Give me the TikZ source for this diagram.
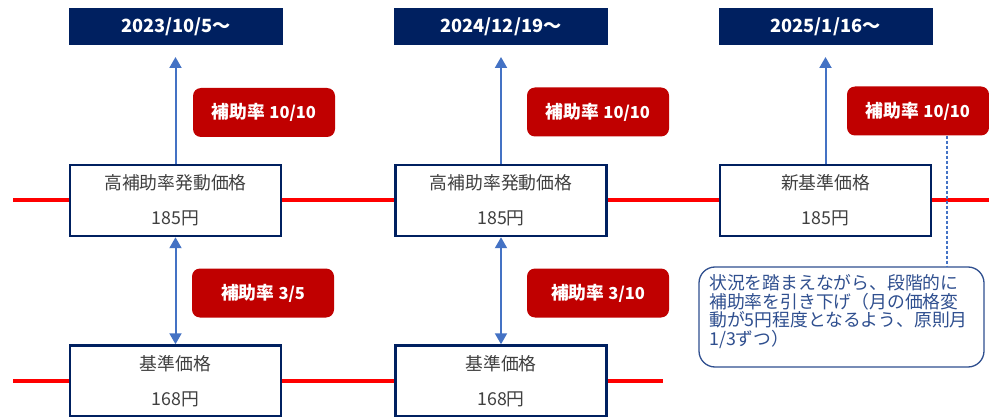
\documentclass[tikz,border=0pt]{standalone}
\usepackage{fontspec}
\setmainfont{Noto Sans CJK JP}
\newcommand{\labnum}[1]{{\fontsize{16.5}{20}\selectfont #1}}
\usetikzlibrary{arrows.meta,backgrounds}
\definecolor{navy}{HTML}{002060}
\definecolor{labred}{HTML}{C00000}
\definecolor{linered}{HTML}{FF0000}
\definecolor{arrowblue}{HTML}{4472C4}
\definecolor{txtgray}{HTML}{404040}
\definecolor{callc}{HTML}{2F4F8F}
\tikzset{
  hdr/.style={fill=navy, text=white, minimum width=214pt, minimum height=37pt, inner sep=0pt,
    font=\fontsize{18.2}{20}\selectfont\bfseries},
  pbox/.style={draw=navy, line width=2.5pt, fill=white, minimum width=211pt, minimum height=71pt,
    inner sep=0pt, align=center, text=txtgray, font=\fontsize{17.8}{35}\selectfont},
  rlab/.style={fill=labred, rounded corners=8pt, minimum width=142pt, minimum height=49pt,
    inner sep=0pt, text=white, font=\fontsize{17.8}{20}\selectfont\bfseries},
  redline/.style={draw=linered, line width=4pt},
  barrow/.style={draw=arrowblue, line width=2pt},
  tip/.style={-{Triangle[width=12pt,length=11pt]}},
  dtip/.style={{Triangle[width=12pt,length=11pt]}-{Triangle[width=12pt,length=11pt]}},
  dashline/.style={draw=arrowblue, line width=1.2pt, dash pattern=on 3pt off 2pt},
  callbox/.style={draw=callc, line width=1.3pt, fill=white, rounded corners=16pt,
    minimum width=285pt, minimum height=100pt, inner sep=0pt},
  calltext/.style={text=callc, align=left, inner sep=0pt, font=\fontsize{17.8}{18.7}\selectfont}
}
\begin{document}
\begin{tikzpicture}[x=1pt,y=-1pt]
\useasboundingbox (0,0) rectangle (989,417);
% headers
\node[hdr] (h1) at (176,26.5) {2023/10/5～};
\node[hdr] (h2) at (501,26.5) {2024/12/19～};
\node[hdr] (h3) at (825.5,26.5) {2025/1/16～};
% upper price boxes
\node[pbox] (b1) at (175.5,200.5) {高補助率発動価格\\185円};
\node[pbox] (b2) at (501,200.5) {高補助率発動価格\\185円};
\node[pbox] (b3) at (825.5,200.5) {新基準価格\\185円};
% lower price boxes
\node[pbox] (c1) at (175.5,381) {基準価格\\168円};
\node[pbox] (c2) at (501,381) {基準価格\\168円};
% red labels
\node[rlab] (r1) at (264,112.5) {補助率 \labnum{10/10}};
\node[rlab] (r2) at (598,112) {補助率 \labnum{10/10}};
\node[rlab] (r3) at (918,111) {補助率 \labnum{10/10}};
\node[rlab] (s1) at (263,293) {補助率 \labnum{3/5}};
\node[rlab] (s2) at (598,293) {補助率 \labnum{3/10}};
% callout
\node[callbox] (co) at (841.5,317) {};
\node[calltext, anchor=north west] (ct) at (709,274.3)
  {状況を踏まえながら、段階的に\\補助率を引き下げ（月の価格変\\動が5円程度となるよう、原則月\\1/3ずつ）};
% coordinates for free ends
\coordinate (t1) at (175.5,57);
\coordinate (t2) at (501,57);
\coordinate (t3) at (825.5,57);
\coordinate (la) at (13,200.5);
\coordinate (ra) at (989,200.5);
\coordinate (lb) at (13,381);
\coordinate (rb) at (663,381);
\coordinate (dx) at (947,0);
% red timelines
\begin{scope}[on background layer]
\fill[white] (0,0) rectangle (989,417);
\draw[redline] (la) -- (b1.west);
\draw[redline] (b1.east) -- (b2.west);
\draw[redline] (b2.east) -- (b3.west);
\draw[redline] (b3.east) -- (ra);
\draw[redline] (lb) -- (c1.west);
\draw[redline] (c1.east) -- (c2.west);
\draw[redline] (c2.east) -- (rb);
\end{scope}
% arrows
\draw[barrow,tip] (b1.north) -- (t1);
\draw[barrow,tip] (b2.north) -- (t2);
\draw[barrow,tip] (b3.north) -- (t3);
\draw[barrow,dtip] (b1.south) -- (c1.north);
\draw[barrow,dtip] (b2.south) -- (c2.north);
% dashed connector
\draw[dashline] (r3.south -| dx) -- (co.north -| dx);
\end{tikzpicture}
\end{document}
